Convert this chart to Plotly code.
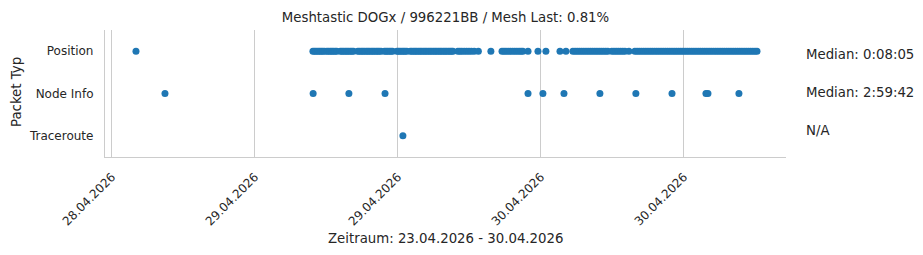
import pandas as pd
import plotly.graph_objects as go

# ---------------- data ----------------
categories = ["Position", "Node Info", "Traceroute"]

pos_28 = ["14:01"]
pos_29 = [
    "04:52", "05:00", "05:08", "05:17", "05:25", "05:33", "05:41", "05:50", "06:02", "06:10",
    "06:19", "06:27", "06:35", "06:44", "06:52", "07:10", "07:18", "07:26", "07:35", "07:43",
    "07:51", "08:00", "08:08", "08:16", "08:38", "08:46", "08:55", "09:03", "09:11", "09:20",
    "09:28", "09:36", "09:45", "09:53", "10:01", "10:10", "10:18", "10:26", "10:35", "10:52",
    "11:00", "11:08", "11:17", "11:25", "11:33", "11:55", "12:03", "12:11", "12:20", "12:28",
    "12:36", "12:45", "13:02", "13:10", "13:19", "13:27", "13:35", "13:44", "13:52", "14:00",
    "14:09", "14:17", "14:25", "14:34", "14:42", "14:50", "14:59", "15:07", "15:15", "15:24",
    "15:32", "15:40", "15:49", "15:57", "16:05", "16:14", "16:22", "16:30", "16:37",
    "17:02", "17:12", "17:22", "17:34", "17:46", "17:58", "18:10", "18:24", "18:45",
    "19:48",
    "20:44", "20:54", "21:04", "21:15", "21:26", "21:37", "21:48", "21:59", "22:10", "22:20",
    "22:29", "22:55", "23:45",
]
pos_30 = [
    "00:25", "01:36", "02:06",
    "02:41", "02:52", "03:03", "03:14", "03:25", "03:36", "03:47", "03:58", "04:09", "04:20",
    "04:31", "04:42", "04:53", "05:04", "05:15", "05:26", "05:37",
    "05:57", "06:08", "06:19", "06:30", "06:41", "06:52", "07:03", "07:23",
    "07:53", "08:04", "08:15", "08:26", "08:37", "08:48", "08:59", "09:10", "09:21", "09:32",
    "09:43", "09:54", "10:05", "10:16", "10:27", "10:38", "10:49", "11:00", "11:11", "11:22",
    "11:33", "11:44", "11:55", "12:06", "12:17", "12:28", "12:39", "12:50", "13:01", "13:12",
    "13:23", "13:34", "13:45", "13:56", "14:07", "14:18", "14:29", "14:40", "14:51", "15:02",
    "15:13", "15:24", "15:35", "15:46", "15:57", "16:08", "16:19", "16:30", "16:41", "16:52",
    "17:03", "17:14", "17:25", "17:36", "17:47", "17:58", "18:08",
]

nodeinfo_28 = ["16:27"]
nodeinfo_29 = ["04:53", "07:53", "10:55", "22:55"]
nodeinfo_30 = ["00:10", "01:56", "04:57", "07:58", "11:00", "13:51", "14:01", "16:37"]

traceroute_29 = ["12:25"]

medians = ["Median: 0:08:05", "Median: 2:59:42", "N/A"]

title_text = "Meshtastic DOGx / 996221BB / Mesh Last: 0.81%"
x_title = "Zeitraum: 23.04.2026 - 30.04.2026"
y_title = "Packet Typ"


def stamps(day, times):
    return [pd.Timestamp(f"{day} {t}") for t in times]


pos_x = stamps("2026-04-28", pos_28) + stamps("2026-04-29", pos_29) + stamps("2026-04-30", pos_30)
node_x = stamps("2026-04-28", nodeinfo_28) + stamps("2026-04-29", nodeinfo_29) + stamps("2026-04-30", nodeinfo_30)
trace_x = stamps("2026-04-29", traceroute_29)

xs = pos_x + node_x + trace_x
ys = [categories[0]] * len(pos_x) + [categories[1]] * len(node_x) + [categories[2]] * len(trace_x)

fig = go.Figure()
fig.add_trace(go.Scatter(
    x=xs, y=ys, mode="markers",
    marker=dict(color="#1f77b4", size=7, line=dict(width=0)),
    showlegend=False,
))

grid = "#cccccc"
TOP, BOT = 30, 98
plot_h = 255 - TOP - BOT
bottom_px = 255 - BOT


def py(ypx):
    return (bottom_px - ypx) / plot_h


fig.update_layout(
    width=923, height=255,
    margin=dict(l=105, r=137, t=TOP, b=BOT),
    plot_bgcolor="white", paper_bgcolor="white",
    font=dict(family="DejaVu Sans", size=12, color="#262626"),
    title=dict(text=title_text, x=0.4827, xanchor="center", y=1 - 17 / 255, yanchor="middle",
               font=dict(size=13.3, color="#262626")),
    xaxis=dict(
        type="date",
        range=["2026-04-28 11:25", "2026-04-30 20:34"],
        tick0="2026-04-28 12:00", dtick=43200000,
        tickformat="%d.%m.%Y", tickangle=-45,
        showgrid=True, gridcolor=grid, gridwidth=1,
        showline=True, linecolor=grid, linewidth=1.25,
        ticks="", zeroline=False, ticklabelstandoff=7,
        tickfont=dict(size=12),
    ),
    yaxis=dict(
        type="category",
        categoryorder="array", categoryarray=categories,
        range=[2.5, -0.5],
        showgrid=False, zeroline=False,
        showline=True, linecolor=grid, linewidth=1.25,
        ticks="", ticklabelstandoff=8,
        tickfont=dict(size=12),
    ),
)

ann_px = [54, 92, 130]
for txt, ypx in zip(medians, ann_px):
    fig.add_annotation(text=txt, xref="paper", yref="paper", x=(804 - 105) / 681, y=py(ypx),
                       xanchor="left", yanchor="middle", showarrow=False,
                       font=dict(size=13.3, color="#262626"))

fig.add_annotation(text=x_title, xref="paper", yref="paper", x=0.5, y=py(238),
                   xanchor="center", yanchor="middle", showarrow=False,
                   font=dict(size=13.3, color="#262626"))
fig.add_annotation(text=y_title, xref="paper", yref="paper", x=(16 - 105) / 681, y=py(92),
                   xanchor="center", yanchor="middle", textangle=-90, showarrow=False,
                   font=dict(size=13.3, color="#262626"))

fig.write_html("out.html")
